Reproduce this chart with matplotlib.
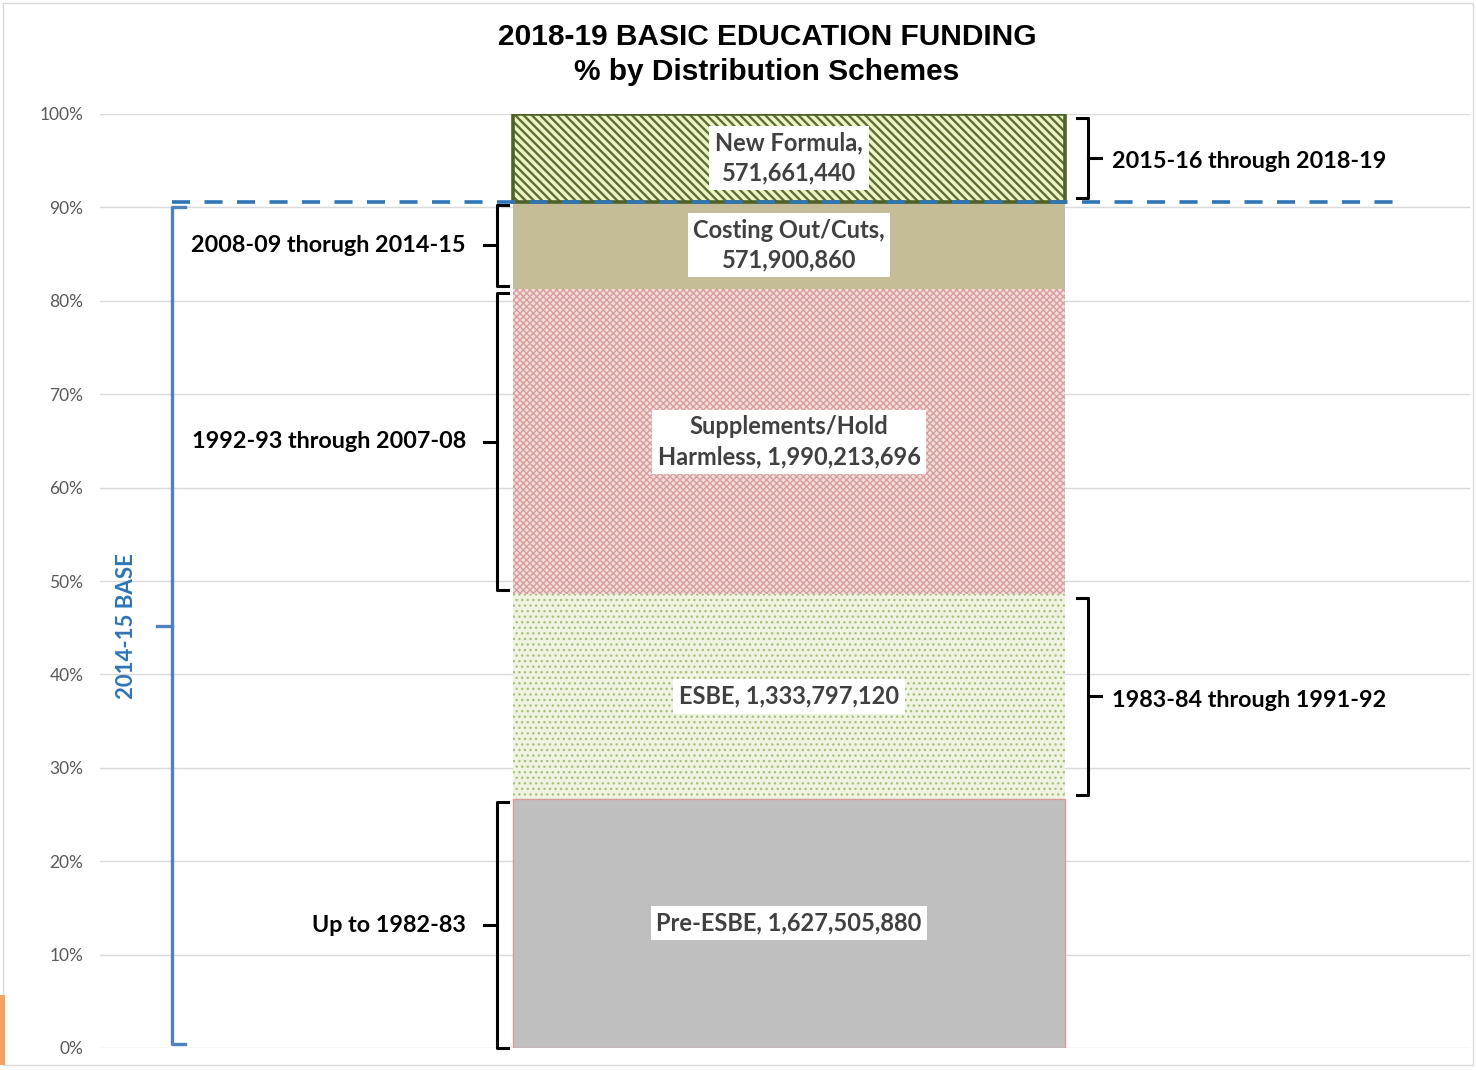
import numpy as np
import matplotlib.pyplot as plt
from matplotlib.patches import Rectangle

# data (dollars by distribution scheme, bottom to top)
schemes = ["Pre-ESBE", "ESBE", "Supplements/Hold\nHarmless", "Costing Out/Cuts", "New Formula"]
amounts = [1627505880, 1333797120, 1990213696, 571900860, 571661440]
seg_labels = ["Pre-ESBE, 1,627,505,880", "ESBE, 1,333,797,120",
              "Supplements/Hold\nHarmless, 1,990,213,696",
              "Costing Out/Cuts,\n571,900,860", "New Formula,\n571,661,440"]
periods = ["Up to 1982-83", "1983-84 through 1991-92", "1992-93 through 2007-08",
           "2008-09 thorugh 2014-15", "2015-16 through 2018-19"]
period_side = ["left", "right", "left", "left", "right"]

# styles per segment
face = ["#bfbfbf", "#f1f3e2", "#f3dcdb", "#c4bd97", "#eef3c8"]
hatch = [None, "...", "xxxxx", None, "\\\\\\\\"]
hatch_col = [None, "#a7c27c", "#d69f9d", None, "#5b7030"]
hatch_lw = [1.0, 1.0, 1.0, 1.0, 1.7]

fracs = np.array(amounts) / sum(amounts)
bottoms = np.concatenate([[0], np.cumsum(fracs)[:-1]])

fig = plt.figure(figsize=(14.76, 10.70), dpi=100)
ax = fig.add_axes([100 / 1476, 22 / 1070, 1370 / 1476, 934 / 1070])
ax.set_xlim(100, 1470)
ax.set_ylim(0, 1)

bar_x, bar_w = 789, 552
for i in range(len(fracs)):
    ax.bar(bar_x, fracs[i], bottom=bottoms[i], width=bar_w, color=face[i],
           linewidth=0, zorder=2)
    if hatch[i]:
        plt.rcParams['hatch.linewidth'] = hatch_lw[i]
        b = ax.bar(bar_x, fracs[i], bottom=bottoms[i], width=bar_w, facecolor="none",
                   edgecolor=hatch_col[i], hatch=hatch[i], linewidth=0, zorder=2)
        for p in b:
            if hasattr(p, "set_hatch_linewidth"):
                p.set_hatch_linewidth(hatch_lw[i])

# borders
ax.bar(bar_x, fracs[4], bottom=bottoms[4], width=bar_w, facecolor="none",
       edgecolor="#4f6228", linewidth=2.6, zorder=3)
ax.bar(bar_x, fracs[0], bottom=bottoms[0], width=bar_w, facecolor="none",
       edgecolor="#d99a98", linewidth=1.0, zorder=3)

# segment labels
for i in range(len(fracs)):
    ax.text(bar_x, bottoms[i] + fracs[i] / 2, seg_labels[i], ha="center", va="center",
            fontsize=17, fontweight="bold", family="Lato", color="#404040",
            linespacing=1.35, zorder=5,
            bbox=dict(facecolor="white", edgecolor="none", pad=4))


def brace(x0, y0, y1, side, color="black", lw=2.2, hook=11, tick=13):
    # side = -1: tick points left, +1: tick points right
    ax.plot([x0 - side * hook, x0, x0, x0 - side * hook], [y0, y0, y1, y1],
            color=color, lw=lw, solid_joinstyle="round", zorder=4, clip_on=False)
    ym = (y0 + y1) / 2
    ax.plot([x0, x0 + side * tick], [ym, ym], color=color, lw=lw, zorder=4, clip_on=False)
    return ym


inset = 0.004
for i in range(len(fracs)):
    y0, y1 = bottoms[i] + inset, bottoms[i] + fracs[i] - inset
    if i == 0:
        y0 = 0
    if period_side[i] == "left":
        ym = brace(497, y0, y1, -1)
        ax.text(466, ym, periods[i], ha="right", va="center", fontsize=16.8,
                fontweight="bold", family="Lato", color="black")
    else:
        ym = brace(1088, y0, y1, 1)
        ax.text(1112, ym - 0.004, periods[i], ha="left", va="center", fontsize=16.8,
                fontweight="bold", family="Lato", color="black")

# 2014-15 base bracket
base_top = bottoms[4]
ym = brace(172, 0.004, 0.9, -1, color="#4f81bd", lw=2.4, hook=13, tick=15)
ax.text(127, ym, "2014-15 BASE", rotation=90, ha="center", va="center",
        fontsize=16, fontweight="bold", family="Lato", color="#2e75b6")
ax.plot([172, 1405], [base_top, base_top], color="#2e75b6", lw=2.6,
        dashes=(5, 4), zorder=4)

# axes styling
ax.set_yticks(np.arange(0, 1.01, 0.1))
ax.set_yticklabels([f"{int(round(v * 100))}%" for v in np.arange(0, 1.01, 0.1)],
                   fontsize=12.5, color="#595959", family="Lato")
ax.tick_params(axis="y", length=0, pad=12)
ax.set_xticks([])
ax.grid(axis="y", color="#d9d9d9", lw=1.0, zorder=0)
ax.set_axisbelow(True)
for s in ax.spines.values():
    s.set_visible(False)

fig.text(767 / 1476, 1 - 37 / 1070, "2018-19 BASIC EDUCATION FUNDING", ha="center",
         va="center", fontsize=21.5, fontweight="bold", family="Liberation Sans")
fig.text(767 / 1476, 1 - 72 / 1070, "% by Distribution Schemes", ha="center",
         va="center", fontsize=21.5, fontweight="bold", family="Liberation Sans")

# chart frame and edge mark
fig.add_artist(Rectangle((3 / 1476, 5 / 1070), 1470 / 1476, 1062 / 1070,
                         transform=fig.transFigure, fill=False,
                         edgecolor="#d9d9d9", lw=1))
fig.add_artist(Rectangle((0, 5 / 1070), 5 / 1476, 70 / 1070,
                         transform=fig.transFigure, color="#f4a460", lw=0))

fig.savefig("out.png", dpi=100)
